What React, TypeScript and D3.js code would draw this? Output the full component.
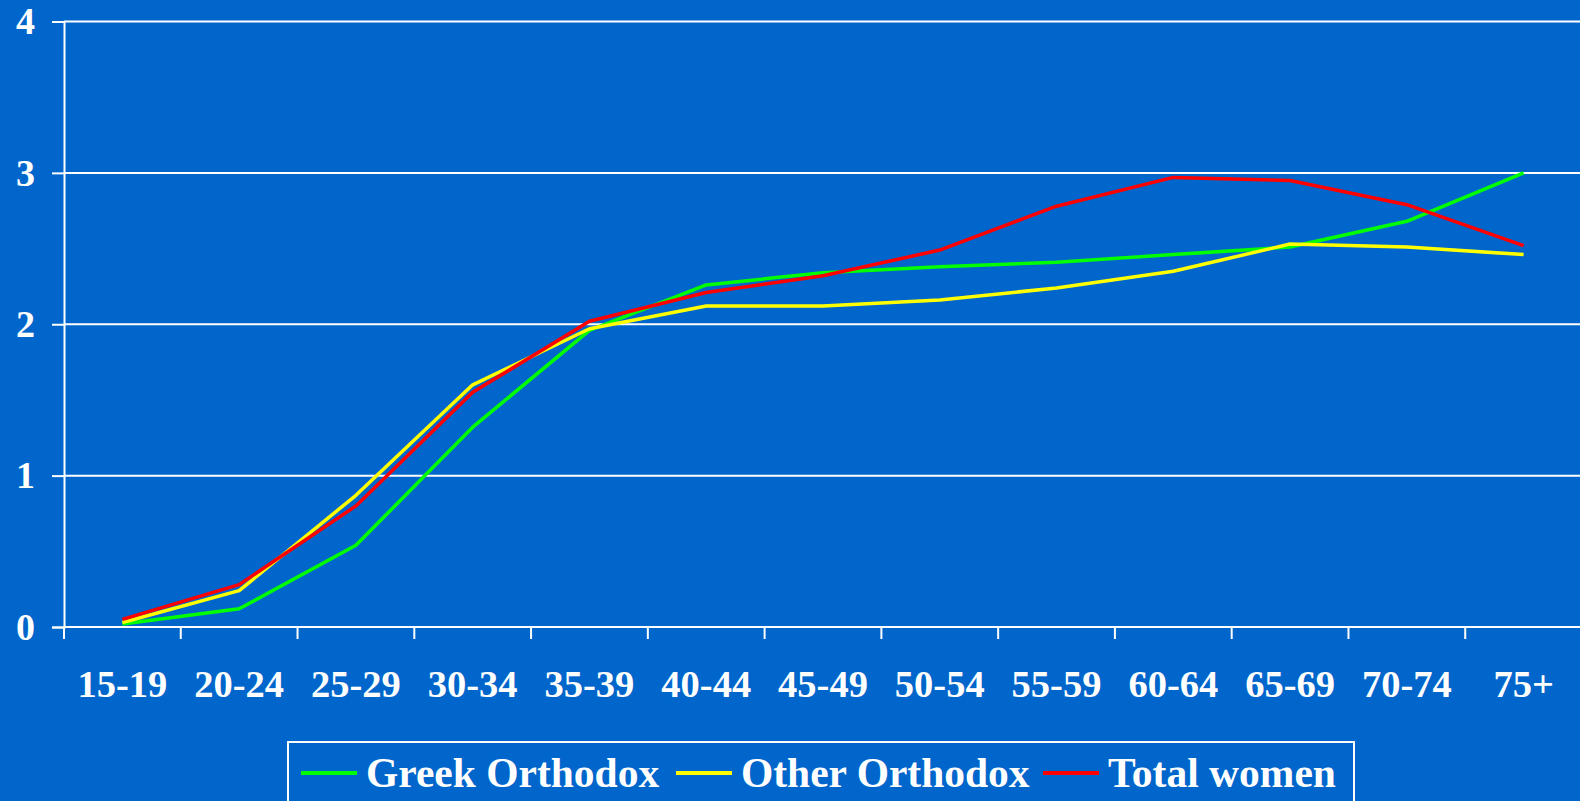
import React, { useEffect, useRef } from 'react'
import * as d3 from 'd3'

const ageGroups = ['15-19', '20-24', '25-29', '30-34', '35-39', '40-44', '45-49', '50-54', '55-59', '60-64', '65-69', '70-74', '75+']
const greekOrthodox = [0.02, 0.12, 0.54, 1.32, 1.96, 2.26, 2.34, 2.38, 2.41, 2.46, 2.51, 2.68, 3.0]
const otherOrthodox = [0.03, 0.24, 0.87, 1.6, 1.97, 2.12, 2.12, 2.16, 2.24, 2.35, 2.53, 2.51, 2.46]
const totalWomen = [0.05, 0.28, 0.8, 1.55, 2.02, 2.21, 2.32, 2.49, 2.78, 2.97, 2.95, 2.79, 2.52]
const yTicks = [0, 1, 2, 3, 4]

const seriesNames = ['Greek Orthodox', 'Other Orthodox', 'Total women']
const seriesColors = ['#00ff00', '#ffff00', '#ff0000']

export default function App() {
  const ref = useRef<SVGSVGElement>(null)

  useEffect(() => {
    const width = 1580
    const height = 801
    const left = 64, right = 1582, top = 21.5, bottom = 627
    const font = '"Liberation Serif", "Times New Roman", serif'

    const svg = d3.select(ref.current)
    svg.selectAll('*').remove()

    svg.append('rect').attr('width', width).attr('height', height).attr('fill', '#0066cc')

    const x = d3.scaleBand().domain(ageGroups).range([left, right])
    const y = d3.scaleLinear().domain([0, 4]).range([bottom, top])

    // gridlines
    svg.append('g')
      .selectAll('line')
      .data(yTicks.filter(d => d > 0))
      .enter()
      .append('line')
      .attr('x1', left).attr('x2', right)
      .attr('y1', d => y(d)).attr('y2', d => y(d))
      .attr('stroke', 'white').attr('stroke-width', 2)

    // y axis
    const yAxis = d3.axisLeft(y).tickValues(yTicks).tickSize(12).tickPadding(17).tickFormat(d3.format('d'))
    const gy = svg.append('g').attr('transform', `translate(${left},0)`).call(yAxis)
    gy.select('.domain').attr('stroke', 'white').attr('stroke-width', 2)
    gy.selectAll('.tick line').attr('stroke', 'white').attr('stroke-width', 2)
    gy.selectAll('.tick text')
      .attr('fill', 'white')
      .attr('font-family', font)
      .attr('font-weight', 'bold')
      .attr('font-size', 38)

    // x axis: ticks on band edges
    const gx = svg.append('g')
    gx.append('line')
      .attr('x1', left).attr('x2', right)
      .attr('y1', bottom).attr('y2', bottom)
      .attr('stroke', 'white').attr('stroke-width', 2)
    const edges = ageGroups.map(d => x(d) as number)
    gx.selectAll('line.tk')
      .data(edges)
      .enter()
      .append('line')
      .attr('class', 'tk')
      .attr('x1', d => d).attr('x2', d => d)
      .attr('y1', bottom).attr('y2', bottom + 12)
      .attr('stroke', 'white').attr('stroke-width', 2)
    gx.selectAll('text')
      .data(ageGroups)
      .enter()
      .append('text')
      .attr('x', d => (x(d) as number) + x.bandwidth() / 2)
      .attr('y', 697)
      .attr('text-anchor', 'middle')
      .attr('fill', 'white')
      .attr('font-family', font)
      .attr('font-weight', 'bold')
      .attr('font-size', 38.5)
      .text(d => d)

    // lines
    const line = d3.line<number>()
      .x((d, i) => (x(ageGroups[i]) as number) + x.bandwidth() / 2)
      .y(d => y(d))

    const allSeries = [greekOrthodox, otherOrthodox, totalWomen]
    svg.append('g')
      .selectAll('path')
      .data(allSeries)
      .enter()
      .append('path')
      .attr('d', d => line(d))
      .attr('fill', 'none')
      .attr('stroke', (d, i) => seriesColors[i])
      .attr('stroke-width', 3.5)
      .attr('stroke-linejoin', 'round')

    // legend
    const legend = svg.append('g')
    legend.append('rect')
      .attr('x', 288).attr('y', 742)
      .attr('width', 1066).attr('height', 80)
      .attr('fill', 'none')
      .attr('stroke', 'white').attr('stroke-width', 2)
    const itemX = [301, 676, 1043]
    seriesNames.forEach((name, i) => {
      legend.append('line')
        .attr('x1', itemX[i]).attr('x2', itemX[i] + 56)
        .attr('y1', 773).attr('y2', 773)
        .attr('stroke', seriesColors[i]).attr('stroke-width', 4)
      legend.append('text')
        .attr('x', itemX[i] + 65)
        .attr('y', 787)
        .attr('fill', 'white')
        .attr('font-family', font)
        .attr('font-weight', 'bold')
        .attr('font-size', 41.5)
        .text(name)
    })
  }, [])

  return (
    <svg ref={ref} width={1580} height={801} style={{ position: 'absolute', left: 0, top: 0 }} />
  )
}
